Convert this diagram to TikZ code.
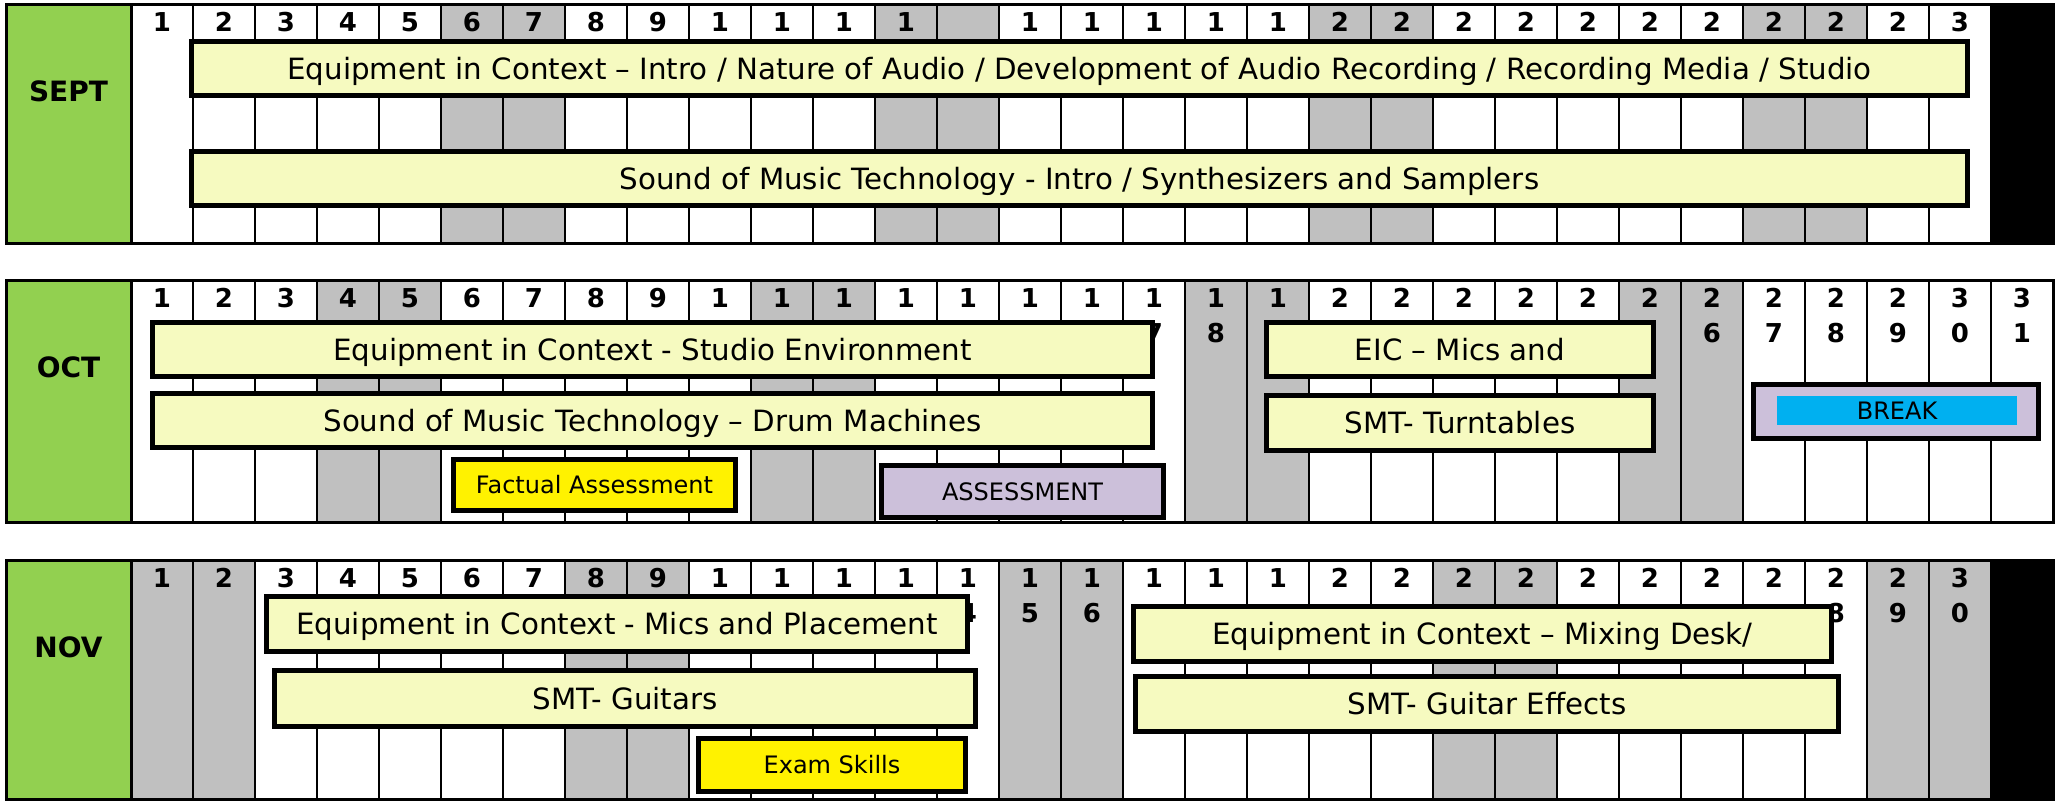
\documentclass[tikz,border=0pt]{standalone}
\usepackage{fontspec}
\setmainfont{DejaVu Sans}

\definecolor{monthgreen}{RGB}{146,208,80}
\definecolor{weekend}{RGB}{192,192,192}
\definecolor{topicfill}{RGB}{246,250,192}
\definecolor{assessfill}{RGB}{204,192,218}
\definecolor{breakblue}{RGB}{0,176,240}

\tikzset{
	month/.style={anchor=base, inner sep=0, font=\fontsize{28}{34}\selectfont\bfseries},
	daynum/.style={anchor=base, inner sep=0, font=\fontsize{26}{31}\selectfont\bfseries},
	topic/.style={draw, line width=5, fill=topicfill, inner sep=0, text height=21.3, text depth=0,
		font=\fontsize{29.3}{35}\selectfont},
	test/.style={topic, text height=17.5, font=\fontsize{24}{29}\selectfont},
}

\begin{document}
\begin{tikzpicture}[x=1pt,y=-1pt]
	\useasboundingbox (0,0) rectangle (2056,801);

	\foreach \mon/\ytop/\ybot/\wkend/\dayset in {
			SEPT/4/243/{6,7,13,14,20,21,27,28}/{1,...,13,15,16,...,30},
			OCT/280/522/{4,5,11,12,18,19,25,26}/{1,...,31},
			NOV/560/799/{1,2,8,9,15,16,22,23,29,30}/{1,...,30}} {
		\fill [white] (131,\ytop) rectangle (2053,\ybot);
		\foreach \w in \wkend
			\fill [weekend] ({69+62*\w},\ytop) rectangle ({131+62*\w},\ybot);
		\foreach \k in {1,...,30}
			\draw [line width=2.5] ({131+62*\k},\ytop) -- ({131+62*\k},\ybot);
		\foreach \d in \dayset {
			\pgfmathtruncatemacro\tens{\d/10}
			\ifnum\d<10
				\node [daynum] (\mon\d) at ({100+62*\d},\ytop+27) {\d};
			\else
				\node [daynum] (\mon\d) at ({100+62*\d},\ytop+27) {\tens};
			\fi
		}
		\draw [line width=3] (131,\ytop) rectangle (2053,\ybot);
		\draw [line width=3, fill=monthgreen] (6,\ytop) rectangle (131,\ybot);
		\node [month] (\mon) at (68.5,\ytop+97) {\mon};
	}
	\fill (1991,4) rectangle (2053,243);
	\fill (1991,560) rectangle (2053,799);

	% second digits that the bars leave in sight
	\foreach \d in {17,18,26,27,28,29,30,31} {
		\pgfmathtruncatemacro\ones{mod(\d,10)}
		\node [daynum] (OCT\d-2) at ({100+62*\d},342) {\ones};
	}
	\foreach \d in {14,15,16,28,29,30} {
		\pgfmathtruncatemacro\ones{mod(\d,10)}
		\node [daynum] (NOV\d-2) at ({100+62*\d},622) {\ones};
	}

	\node [topic, minimum width=1776, minimum height=54] (septeic) at (1079.5,68.5)
		{Equipment in Context -- Intro / Nature of Audio / Development of Audio Recording / Recording Media / Studio};
	\node [topic, minimum width=1776, minimum height=54] (septsmt) at (1079.5,178.5)
		{Sound of Music Technology - Intro / Synthesizers and Samplers};

	\node [topic, minimum width=1000, minimum height=54] (octeic) at (652.5,349.5) {Equipment in Context - Studio Environment};
	\node [topic, minimum width=1000, minimum height=54] (octsmt) at (652.5,420.5) {Sound of Music Technology -- Drum Machines};
	\node [test, fill=yellow, minimum width=282, minimum height=51] (factual) at (594.5,485) {Factual Assessment};
	\node [test, fill=assessfill, minimum width=282, minimum height=52] (assess) at (1022.5,491.5) {ASSESSMENT};
	\node [topic, minimum width=387, minimum height=54] (octmics) at (1460,349.5) {EIC -- Mics and};
	\node [topic, minimum width=387, minimum height=55] (octturn) at (1460,423) {SMT- Turntables};
	\node [test, fill=assessfill, minimum width=285, minimum height=54] (break) at (1896,411.5) {};
	\node [test, draw=none, fill=breakblue, minimum width=240, minimum height=29] (breaktext) at (1897,410.5) {BREAK};

	\node [topic, minimum width=701, minimum height=55] (novmics) at (617,624) {Equipment in Context - Mics and Placement};
	\node [topic, minimum width=701, minimum height=56] (novguit) at (625,698.5) {SMT- Guitars};
	\node [test, fill=yellow, minimum width=267, minimum height=53] (exam) at (832,765) {Exam Skills};
	\node [topic, minimum width=698, minimum height=55] (novmix) at (1482.5,634) {Equipment in Context -- Mixing Desk/};
	\node [topic, minimum width=703, minimum height=55] (noveff) at (1487,704) {SMT- Guitar Effects};
\end{tikzpicture}
\end{document}
